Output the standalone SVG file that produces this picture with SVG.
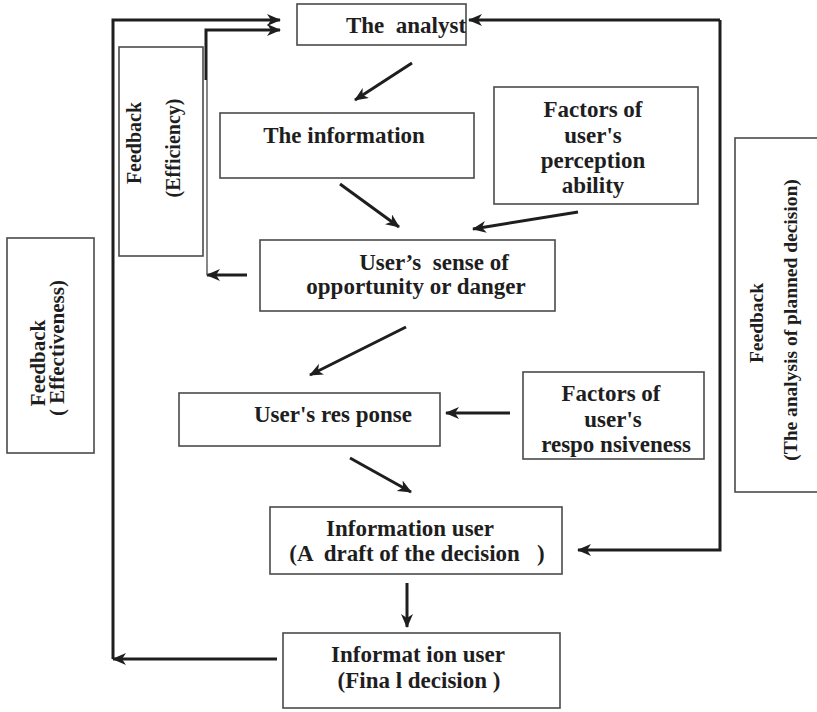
<svg xmlns="http://www.w3.org/2000/svg" width="817" height="712" viewBox="0 0 817 712">
  <style>
    .box { fill: #ffffff; stroke: #4a4a4a; stroke-width: 1.6; }
    .t { font-family: "Liberation Serif", "Times New Roman", serif; font-weight: bold; font-size: 23px; fill: #1e1e1e; text-anchor: middle; white-space: pre; }
    .ln { fill: none; stroke: #1e1e1e; stroke-width: 3; }
    .thin { fill: none; stroke: #555; stroke-width: 1.4; }
  </style>
  <defs>
    <marker id="ah" markerUnits="userSpaceOnUse" markerWidth="16" markerHeight="14" refX="13" refY="6" orient="auto">
      <path d="M0,0 L14,6 L0,12 L4,6 z" fill="#1e1e1e"/>
    </marker>
  </defs>
  <rect width="817" height="712" fill="#ffffff"/>

  <g id="analyst">
    <rect class="box" x="297" y="4" width="169" height="41"/>
    <text class="t" x="406" y="33">The  analyst</text>
  </g>
  <g id="information">
    <rect class="box" x="220" y="113" width="254" height="65"/>
    <text class="t" x="344" y="143">The information</text>
  </g>
  <g id="perception-factors">
    <rect class="box" x="494" y="87" width="204" height="117"/>
    <text class="t" x="593" y="117">Factors of</text>
    <text class="t" x="593" y="143">user's</text>
    <text class="t" x="593" y="168">perception</text>
    <text class="t" x="593" y="193">ability</text>
  </g>
  <g id="sense">
    <rect class="box" x="260" y="240" width="295" height="71"/>
    <text class="t" x="434" y="270">User’s  sense of</text>
    <text class="t" x="416" y="294">opportunity or danger</text>
  </g>
  <g id="feedback-efficiency">
    <rect class="box" x="119" y="47" width="84" height="209"/>
    <text class="t" style="font-size:20px" transform="translate(141,143) rotate(-90)">Feedback</text>
    <text class="t" style="font-size:20px" transform="translate(180,148) rotate(-90)">(Efficiency)</text>
  </g>
  <g id="feedback-effectiveness">
    <rect class="box" x="7" y="238" width="87" height="215"/>
    <text class="t" style="font-size:21px" transform="translate(45,363) rotate(-90)">Feedback</text>
    <text class="t" style="font-size:21px" transform="translate(64,348) rotate(-90)">( Effectiveness)</text>
  </g>
  <g id="feedback-planned">
    <rect class="box" x="735" y="138" width="90" height="354"/>
    <text class="t" style="font-size:19.5px" transform="translate(763,323) rotate(-90)">Feedback</text>
    <text class="t" style="font-size:19.5px" transform="translate(797,320) rotate(-90)">(The analysis of planned decision)</text>
  </g>
  <g id="response">
    <rect class="box" x="179" y="393" width="261" height="53"/>
    <text class="t" x="333" y="422">User's res ponse</text>
  </g>
  <g id="responsiveness-factors">
    <rect class="box" x="523" y="372" width="181" height="87"/>
    <text class="t" x="611" y="401">Factors of</text>
    <text class="t" x="613" y="427">user's</text>
    <text class="t" x="616" y="452">respo nsiveness</text>
  </g>
  <g id="draft">
    <rect class="box" x="270" y="507" width="292" height="67"/>
    <text class="t" x="410" y="536">Information user</text>
    <text class="t" x="417" y="561">(A  draft of the decision   )</text>
  </g>
  <g id="final">
    <rect class="box" x="283" y="633" width="277" height="75"/>
    <text class="t" x="418" y="662">Informat ion user</text>
    <text class="t" x="419" y="688">(Fina l decision )</text>
  </g>

  <g id="connectors">
    <line class="ln" x1="412" y1="63" x2="355" y2="100" marker-end="url(#ah)"/>
    <line class="ln" x1="340" y1="184" x2="399" y2="227" marker-end="url(#ah)"/>
    <line class="ln" x1="578" y1="212" x2="473" y2="229" marker-end="url(#ah)"/>
    <line class="ln" x1="247" y1="275" x2="207" y2="275" marker-end="url(#ah)"/>
    <line class="ln" x1="406" y1="327" x2="310" y2="375" marker-end="url(#ah)"/>
    <line class="ln" x1="510" y1="413" x2="446" y2="413" marker-end="url(#ah)"/>
    <line class="ln" x1="350" y1="458" x2="411" y2="492" marker-end="url(#ah)"/>
    <line class="ln" x1="407" y1="583" x2="407" y2="627" marker-end="url(#ah)"/>
    <!-- efficiency loop -->
    <polyline class="thin" points="207,275 207,80"/>
    <polyline class="ln" points="206,80 206,30 280,30" stroke-width="2.4" marker-end="url(#ah)"/>
    <!-- effectiveness loop -->
    <polyline class="ln" points="277,659 113,659" marker-end="url(#ah)"/>
    <polyline class="ln" points="113,659 113,20 280,20" stroke-width="2.4" marker-end="url(#ah)"/>
    <!-- planned decision loop -->
    <polyline class="ln" points="720,20 720,550 578,550" stroke-width="2.4" marker-end="url(#ah)"/>
    <line class="ln" x1="720" y1="20" x2="469" y2="20" marker-end="url(#ah)"/>
  </g>
</svg>
